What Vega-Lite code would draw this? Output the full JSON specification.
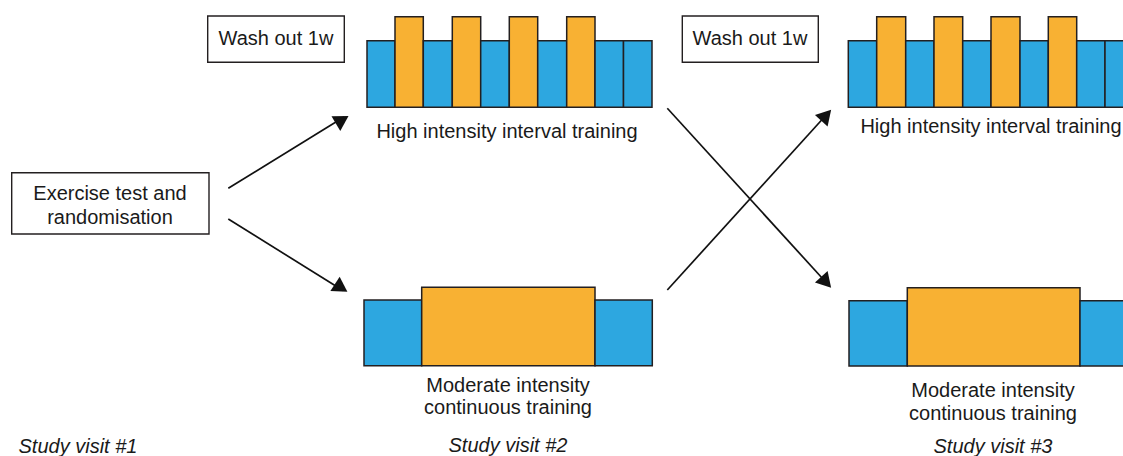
{
  "$schema": "https://vega.github.io/schema/vega-lite/v6.json",
  "width": 1123,
  "height": 456,
  "padding": 0,
  "autosize": {"type": "none"},
  "background": "white",
  "config": {"view": {"stroke": null}},
  "datasets": {
    "blocks": [
      {"kind": "rest", "x": 367, "x2": 395, "y": 40.7, "y2": 107.3},
      {"kind": "work", "x": 395, "x2": 423.3, "y": 16.7, "y2": 107.3},
      {"kind": "rest", "x": 423.3, "x2": 452.3, "y": 40.7, "y2": 107.3},
      {"kind": "work", "x": 452.3, "x2": 480.7, "y": 16.7, "y2": 107.3},
      {"kind": "rest", "x": 480.7, "x2": 509.3, "y": 40.7, "y2": 107.3},
      {"kind": "work", "x": 509.3, "x2": 537.7, "y": 16.7, "y2": 107.3},
      {"kind": "rest", "x": 537.7, "x2": 566.7, "y": 40.7, "y2": 107.3},
      {"kind": "work", "x": 566.7, "x2": 595, "y": 16.7, "y2": 107.3},
      {"kind": "rest", "x": 595, "x2": 623.5, "y": 40.7, "y2": 107.3},
      {"kind": "rest", "x": 623.5, "x2": 652, "y": 40.7, "y2": 107.3},
      {"kind": "rest", "x": 848.3, "x2": 876.7, "y": 40.7, "y2": 107.3},
      {"kind": "work", "x": 876.7, "x2": 905.7, "y": 16.7, "y2": 107.3},
      {"kind": "rest", "x": 905.7, "x2": 934, "y": 40.7, "y2": 107.3},
      {"kind": "work", "x": 934, "x2": 962.7, "y": 16.7, "y2": 107.3},
      {"kind": "rest", "x": 962.7, "x2": 991, "y": 40.7, "y2": 107.3},
      {"kind": "work", "x": 991, "x2": 1020, "y": 16.7, "y2": 107.3},
      {"kind": "rest", "x": 1020, "x2": 1048.3, "y": 40.7, "y2": 107.3},
      {"kind": "work", "x": 1048.3, "x2": 1076.7, "y": 16.7, "y2": 107.3},
      {"kind": "rest", "x": 1076.7, "x2": 1105, "y": 40.7, "y2": 107.3},
      {"kind": "rest", "x": 1105, "x2": 1134, "y": 40.7, "y2": 107.3},
      {"kind": "rest", "x": 364, "x2": 421.7, "y": 300, "y2": 365.7},
      {"kind": "work", "x": 421.7, "x2": 595, "y": 287.3, "y2": 365.7},
      {"kind": "rest", "x": 595, "x2": 652.3, "y": 300, "y2": 365.7},
      {"kind": "rest", "x": 849, "x2": 907.3, "y": 300.7, "y2": 366},
      {"kind": "work", "x": 907.3, "x2": 1080, "y": 287.7, "y2": 366},
      {"kind": "rest", "x": 1080, "x2": 1138, "y": 300.7, "y2": 366}
    ],
    "boxes": [
      {"x": 207.7, "x2": 344.3, "y": 16, "y2": 62.3},
      {"x": 682.3, "x2": 818.3, "y": 16, "y2": 62.3},
      {"x": 11.7, "x2": 209, "y": 172.7, "y2": 234}
    ],
    "labels": [
      {"label": "Wash out 1w", "x": 276, "y": 45},
      {"label": "Wash out 1w", "x": 750, "y": 45},
      {"label": "High intensity interval training", "x": 507, "y": 138},
      {"label": "High intensity interval training", "x": 991, "y": 133},
      {"label": "Exercise test and", "x": 110, "y": 200},
      {"label": "randomisation", "x": 110, "y": 224},
      {"label": "Moderate intensity", "x": 508, "y": 391.7},
      {"label": "continuous training", "x": 508, "y": 413.5},
      {"label": "Moderate intensity", "x": 993, "y": 396.7},
      {"label": "continuous training", "x": 993, "y": 419.5}
    ],
    "visits": [
      {"label": "Study visit #1", "x": 78, "y": 453},
      {"label": "Study visit #2", "x": 508, "y": 451.7},
      {"label": "Study visit #3", "x": 993, "y": 453}
    ],
    "arrows": [
      {"x": 228.3, "y": 188.3, "x2": 344, "y2": 117, "hx": 342.2, "hy": 119.8, "angle": 59},
      {"x": 228.3, "y": 219, "x2": 343, "y2": 290.5, "hx": 341.2, "hy": 287.8, "angle": 123},
      {"x": 667.3, "y": 108.3, "x2": 828, "y2": 284.5, "hx": 826.2, "hy": 282.2, "angle": 138},
      {"x": 667.3, "y": 290, "x2": 828, "y2": 113, "hx": 826.2, "hy": 115.2, "angle": 42}
    ]
  },
  "layer": [
    {
      "data": {"name": "arrows"},
      "mark": {"type": "rule", "stroke": "#111111", "strokeWidth": 1.7},
      "encoding": {
        "x": {"field": "x", "type": "quantitative", "scale": {"domain": [0, 1123], "nice": false, "zero": false}, "axis": null},
        "y": {"field": "y", "type": "quantitative", "scale": {"domain": [0, 456], "nice": false, "zero": false, "reverse": true}, "axis": null},
        "x2": {"field": "x2"},
        "y2": {"field": "y2"}
      }
    },
    {
      "data": {"name": "arrows"},
      "mark": {"type": "point", "shape": "triangle-up", "filled": true, "fill": "#111111", "stroke": null, "size": 290, "opacity": 1},
      "encoding": {
        "x": {"field": "hx", "type": "quantitative"},
        "y": {"field": "hy", "type": "quantitative"},
        "angle": {"field": "angle", "type": "quantitative", "scale": null}
      }
    },
    {
      "data": {"name": "blocks"},
      "mark": {"type": "rect", "stroke": "#231F20", "strokeWidth": 1.5, "clip": true},
      "encoding": {
        "x": {"field": "x", "type": "quantitative"},
        "x2": {"field": "x2"},
        "y": {"field": "y", "type": "quantitative"},
        "y2": {"field": "y2"},
        "fill": {"field": "kind", "type": "nominal", "scale": {"domain": ["rest", "work"], "range": ["#2DA7E0", "#F8B133"]}, "legend": null}
      }
    },
    {
      "data": {"name": "boxes"},
      "mark": {"type": "rect", "fill": "white", "stroke": "#231F20", "strokeWidth": 1.4},
      "encoding": {
        "x": {"field": "x", "type": "quantitative"},
        "x2": {"field": "x2"},
        "y": {"field": "y", "type": "quantitative"},
        "y2": {"field": "y2"}
      }
    },
    {
      "data": {"name": "labels"},
      "mark": {"type": "text", "font": "Liberation Sans", "fontSize": 20, "fill": "#1a1a1a", "align": "center", "baseline": "alphabetic"},
      "encoding": {
        "x": {"field": "x", "type": "quantitative"},
        "y": {"field": "y", "type": "quantitative"},
        "text": {"field": "label"}
      }
    },
    {
      "data": {"name": "visits"},
      "mark": {"type": "text", "font": "Liberation Sans", "fontSize": 20, "fontStyle": "italic", "fill": "#1a1a1a", "align": "center", "baseline": "alphabetic"},
      "encoding": {
        "x": {"field": "x", "type": "quantitative"},
        "y": {"field": "y", "type": "quantitative"},
        "text": {"field": "label"}
      }
    }
  ]
}
